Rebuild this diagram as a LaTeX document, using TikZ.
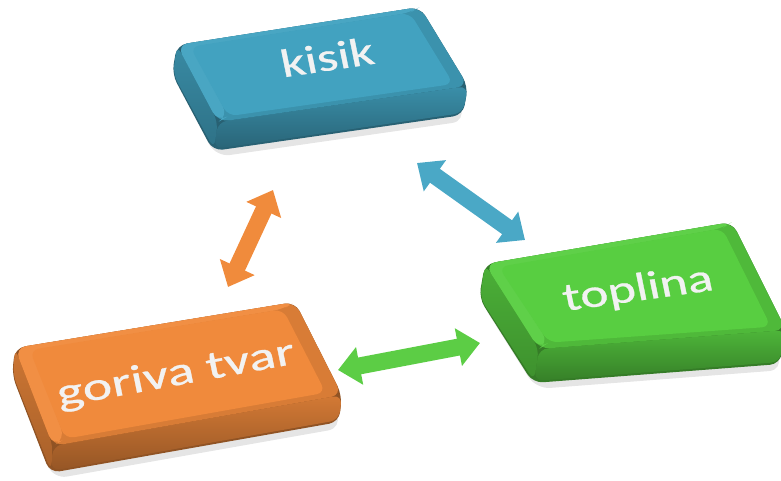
\documentclass[tikz,border=0pt]{standalone}
\usepackage{fontspec}
\setmainfont{Carlito}
\newfontfamily\keyfont[FakeBold=0.6]{Carlito}
\usetikzlibrary{arrows.meta,calc}
\definecolor{kblue}{HTML}{42A2C0}
\definecolor{kgreen}{HTML}{58CE41}
\definecolor{korange}{HTML}{F08A3C}
\definecolor{ablue}{HTML}{4AA8C6}
\definecolor{agreen}{HTML}{5CCD45}
\definecolor{aorange}{HTML}{F08B3C}
\newcommand\drawkey[7]{%
 \coordinate (#1a) at (#2);
 \coordinate (#1b) at (#3);
 \coordinate (#1c) at (#4);
 \coordinate (#1d) at (#5);
 \coordinate (#1ad) at ($(#1a)+(#7)$);
 \coordinate (#1bd) at ($(#1b)+(#7)$);
 \coordinate (#1cd) at ($(#1c)+(#7)$);
 \coordinate (#1dd) at ($(#1d)+(#7)$);
 \fill[black, opacity=0.10, rounded corners=14] ($(#1a)+(2,8)$) -- ($(#1b)+(2,8)$) -- ($(#1cd)+(3,6)$) -- ($(#1dd)+(3,6)$) -- ($(#1ad)+(2,4)$) -- cycle;
 \fill[#6!60!black, rounded corners=10] (#1a) -- (#1b) -- (#1c) -- (#1cd) -- (#1dd) -- (#1ad) -- cycle;
 \shade[top color=#6!88!black, bottom color=#6!62!black, rounded corners=9] (#1d) -- (#1c) -- ($(#1cd)+(0,-2)$) -- ($(#1dd)+(1,-2)$) -- cycle;
 \shade[top color=#6!85!black, bottom color=#6!70!black, rounded corners=9] (#1a) -- (#1d) -- ($(#1dd)+(1,-2)$) -- ($(#1ad)+(1,0)$) -- cycle;
 \fill[#6!90!black, rounded corners=11] (#1a) -- (#1b) -- (#1c) -- (#1d) -- cycle;
 \fill[#6!96!white, rounded corners=11] (#1a) -- (#1b) -- ($(#1b)!0.05!(#1d)$) -- ($(#1a)!0.05!(#1c)$) -- ($(#1d)!0.05!(#1b)$) -- (#1d) -- cycle;
 \fill[#6, rounded corners=9] ($(#1a)!0.045!(#1c)$) -- ($(#1b)!0.05!(#1d)$) -- ($(#1c)!0.05!(#1a)$) -- ($(#1d)!0.05!(#1b)$) -- cycle;
}
\tikzset{
 keytext/.style={font=\keyfont\fontsize{40}{44}\selectfont, inner sep=0pt, text=white!95!black},
 blockarrow/.style={line width=17pt, {Triangle[width=37pt,length=22pt]}-{Triangle[width=37pt,length=22pt]}}
}
\begin{document}
\begin{tikzpicture}[x=1pt,y=-1pt]
\useasboundingbox (0,0) rectangle (781,481);
% arrows
\coordinate (bA) at (417,163);
\coordinate (bB) at (525,240);
\coordinate (oA) at (228,287);
\coordinate (oB) at (273,190);
\coordinate (gA) at (338,370);
\coordinate (gB) at (480,343);
\draw[blockarrow, ablue] (bA) -- (bB);
\draw[blockarrow, aorange] (oA) -- (oB);
\draw[blockarrow, agreen] (gA) -- (gB);
% keys
\drawkey{k}{177,45}{420,7}{468,86}{218,122}{kblue}{-5,29}
\drawkey{t}{485,264}{732,222}{786,330}{539,349}{kgreen}{-6,34}
\drawkey{g}{15,348}{295,302}{342,395}{53,446}{korange}{-3,27}
% texts
\begin{scope}[shift={(327,57)}]
 \node[keytext, cm={1.315,0.198,-0.2,0.98,(0,0)}] (kisik) {kisik};
\end{scope}
\begin{scope}[shift={(638,290)}]
 \node[keytext, cm={1.317,0.186,-0.2,0.98,(0,0)}] (toplina) {toplina};
\end{scope}
\begin{scope}[shift={(176,375)}]
 \node[keytext, cm={1.376,0.252,-0.2,0.98,(0,0)}] (goriva) {goriva tvar};
\end{scope}
\end{tikzpicture}
\end{document}
